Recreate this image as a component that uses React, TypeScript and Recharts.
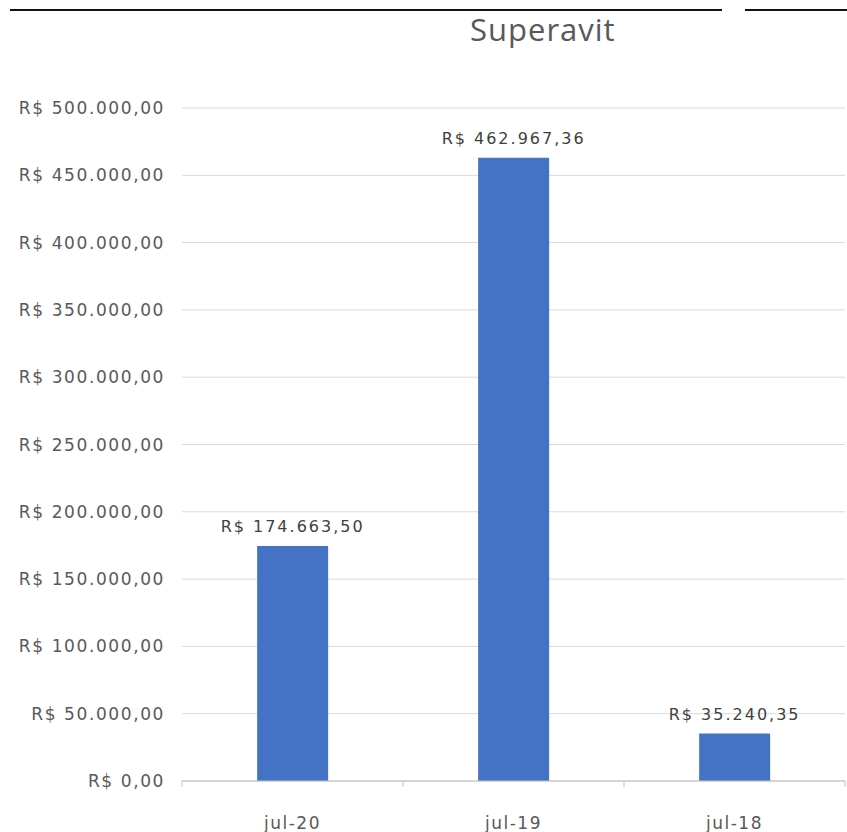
import { Bar, BarChart, CartesianGrid, LabelList, XAxis, YAxis } from "recharts";

const categories = ["jul-20", "jul-19", "jul-18"];
const superavit = [174663.5, 462967.36, 35240.35];
const yTicks = [0, 50000, 100000, 150000, 200000, 250000, 300000, 350000, 400000, 450000, 500000];

const data = categories.map((mes, i) => ({ mes, valor: superavit[i] }));

const brl = (value: number, decimals = 2) =>
  "R$ " +
  Number(value).toLocaleString("pt-BR", { minimumFractionDigits: decimals, maximumFractionDigits: decimals });

const textColor = "#595959";
const font = "'DejaVu Sans', sans-serif";
const X_TICK_SIZE = 5;
const X_TICK_MARGIN = 31;

// single-line data label (LabelList would wrap to bar width)
function ValueLabel(props: any) {
  const { x, y, width, value } = props;
  return (
    <text
      x={Number(x) + Number(width) / 2}
      y={Number(y) - 14}
      textAnchor="middle"
      fill="#404040"
      fontFamily={font}
      fontSize={16}
      letterSpacing={2}
    >
      {brl(Number(value))}
    </text>
  );
}

// category label plus Excel-style tick marks on the band edges
function CategoryTick(props: any) {
  const { x, y, payload, index, visibleTicksCount, width } = props;
  const count = visibleTicksCount || categories.length;
  const band = Number(width) / count;
  const axisY = Number(y) - X_TICK_MARGIN - X_TICK_SIZE;
  const left = Number(x) - band / 2;
  const right = Number(x) + band / 2;
  return (
    <g>
      <line x1={left} x2={left} y1={axisY} y2={axisY + 6} stroke="#bfbfbf" />
      {index === count - 1 ? <line x1={right} x2={right} y1={axisY} y2={axisY + 6} stroke="#bfbfbf" /> : null}
      <text
        x={x}
        y={y}
        dy="0.71em"
        textAnchor="middle"
        fill={textColor}
        fontFamily={font}
        fontSize={17}
        letterSpacing={1.5}
      >
        {payload.value}
      </text>
    </g>
  );
}

export default function App() {
  return (
    <div style={{ position: "relative", width: 847, height: 832, background: "#fff", overflow: "hidden" }}>
      <style>{"body{margin:0}"}</style>
      {/* cut-off page rules above the chart */}
      <div style={{ position: "absolute", left: 10, top: 9, width: 712, height: 2, background: "#111" }} />
      <div style={{ position: "absolute", left: 745, top: 9, width: 102, height: 2, background: "#111" }} />
      <div
        style={{
          position: "absolute",
          left: 470,
          top: 8,
          fontFamily: "'Open Sans', sans-serif",
          fontSize: 31,
          letterSpacing: 1,
          color: textColor,
          whiteSpace: "nowrap",
        }}
      >
        Superavit
      </div>
      <BarChart
        width={847}
        height={832}
        data={data}
        margin={{ top: 108, right: 2, bottom: 0, left: 0 }}
        barCategoryGap="34%"
      >
        <CartesianGrid stroke="#d9d9d9" vertical={false} />
        <XAxis
          dataKey="mes"
          height={51}
          stroke="#bfbfbf"
          tickLine={false}
          tickSize={X_TICK_SIZE}
          tickMargin={X_TICK_MARGIN}
          tick={CategoryTick}
        />
        <YAxis
          width={182}
          domain={[0, 500000]}
          ticks={yTicks}
          axisLine={false}
          tickLine={false}
          tickSize={6}
          tickMargin={11}
          tickFormatter={(v) => brl(v)}
          tick={{ fill: textColor, fontFamily: font, fontSize: 17, letterSpacing: 1.6 }}
        />
        <Bar dataKey="valor" fill="#4472c4" isAnimationActive={false}>
          <LabelList dataKey="valor" content={ValueLabel} />
        </Bar>
      </BarChart>
    </div>
  );
}
